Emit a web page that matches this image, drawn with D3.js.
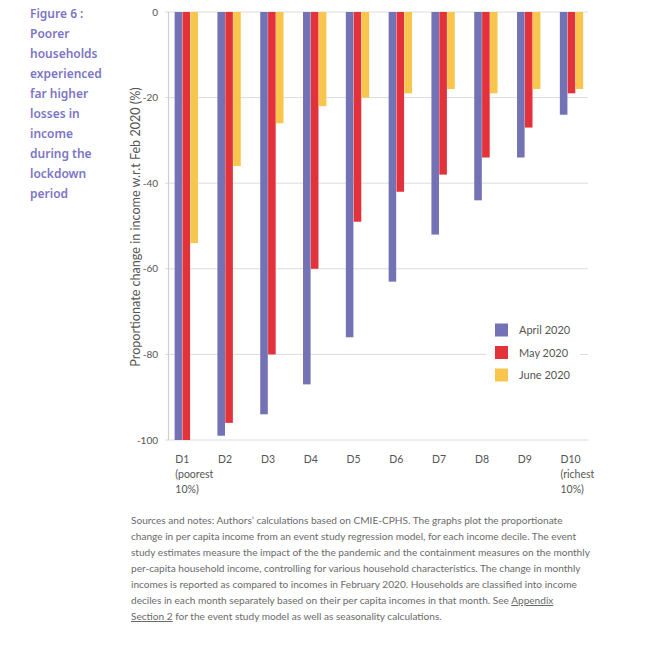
<!DOCTYPE html>
<html><head><meta charset="utf-8">
<script src="https://cdn.jsdelivr.net/npm/d3@7"></script>
<style>body{margin:0;background:#fff;} svg{display:block;}</style>
</head><body>
<svg id="c" width="658" height="648"></svg>
<script>
const deciles = ["D1","D2","D3","D4","D5","D6","D7","D8","D9","D10"];
const decileSub = [["(poorest","10%)"],[],[],[],[],[],[],[],[],["(richest","10%)"]];
const seriesNames = ["April 2020","May 2020","June 2020"];
const april = [-100,-99,-94,-87,-76,-63,-52,-44,-34,-24];
const may   = [-100,-96,-80,-60,-49,-42,-38,-34,-27,-19];
const june  = [-54,-36,-26,-22,-20,-19,-18,-19,-18,-18];
const yTicks = [0,-20,-40,-60,-80,-100];
const colors = ["#7272b4","#e3323a","#f8c64c"];
const titleLines = ["Figure 6 :","Poorer","households","experienced","far higher","losses in","income","during the","lockdown","period"];
const noteLines = [
 "Sources and notes: Authors’ calculations based on CMIE-CPHS. The graphs plot the proportionate",
 "change in per capita income from an event study regression model, for each income decile. The event",
 "study estimates measure the impact of the the pandemic and the containment measures on the monthly",
 "per-capita household income, controlling for various household characteristics.  The change in monthly",
 "incomes is reported as compared to incomes in February 2020. Households are classified into income",
 "deciles in each month separately based on their per capita incomes in that month. See |Appendix |",
 "|Section 2| for the event study model as well as seasonality calculations."
];

const values = [april, may, june];
const svg = d3.select("#c");

const y = d3.scaleLinear().domain([-100, 0]).range([440, 12]);
const x0 = d3.scaleBand().domain(deciles).range([174.3, 583.5]).paddingInner(0.44).paddingOuter(0);
const x1 = d3.scaleBand().domain(seriesNames).range([0, x0.bandwidth()]).padding(0.04);

// gridlines
svg.append("g").selectAll("line").data(yTicks).join("line")
  .attr("x1", 165).attr("x2", 588)
  .attr("y1", d => y(d)).attr("y2", d => y(d))
  .attr("stroke", "#dcdcdc").attr("stroke-width", 1);
// y axis line
svg.append("line").attr("x1", 168.5).attr("x2", 168.5).attr("y1", y(0)).attr("y2", y(-100))
  .attr("stroke", "#cfcfcf").attr("stroke-width", 1.2);
// y tick labels
svg.append("g").selectAll("text").data(yTicks).join("text")
  .attr("x", 158).attr("y", d => y(d) + 3.5)
  .attr("text-anchor", "end")
  .attr("font-family", "Lato, sans-serif").attr("font-size", 10).attr("fill", "#555")
  .text(d => d);

// bars
const g = svg.append("g");
deciles.forEach((d, i) => {
  const gg = g.append("g").attr("transform", `translate(${x0(d)},0)`);
  gg.selectAll("rect").data(seriesNames.map((s, k) => ({s, v: values[k][i], k}))).join("rect")
    .attr("x", e => x1(e.s)).attr("width", x1.bandwidth())
    .attr("y", y(0)).attr("height", e => y(e.v) - y(0))
    .attr("fill", e => colors[e.k]);
});

// x labels
const xl = svg.append("g").attr("font-family", "Lato, sans-serif").attr("font-size", 10.5).attr("fill", "#555");
deciles.forEach((d, i) => {
  const t = xl.append("text").attr("x", x0(d) + 1).attr("y", 463);
  t.append("tspan").attr("x", x0(d) + 1).attr("dy", 0).text(d);
  decileSub[i].forEach(s => t.append("tspan").attr("x", x0(d) + 1).attr("dy", 15).text(s));
});

// y axis title
svg.append("text").attr("transform", `translate(139.5,227) rotate(-90)`)
  .attr("text-anchor", "middle").attr("font-family", "Lato, sans-serif").attr("font-size", 12.6).attr("fill", "#555")
  .text("Proportionate change in income w.r.t Feb 2020 (%)");

// legend
const lg = svg.append("g");
lg.append("rect").attr("x", 486).attr("y", 316).attr("width", 94).attr("height", 70).attr("fill", "#fff");
seriesNames.forEach((s, k) => {
  const cy = 330 + k * 22.5;
  lg.append("rect").attr("x", 495).attr("y", cy - 6.5).attr("width", 13).attr("height", 13).attr("fill", colors[k]);
  lg.append("text").attr("x", 519).attr("y", cy + 4).attr("font-family", "Lato, sans-serif").attr("font-size", 11).attr("fill", "#555").text(s);
});

// title
svg.append("g").selectAll("text").data(titleLines).join("text")
  .attr("x", 30).attr("y", (d, i) => 18 + i * 20)
  .attr("font-family", "'Noto Sans', sans-serif").attr("font-weight", 600).attr("font-size", 12)
  .attr("fill", "#7d75c6").text(d => d);

// notes
const ng = svg.append("g").attr("font-family", "Lato, sans-serif").attr("font-size", 10).attr("fill", "#6a6a6a");
noteLines.forEach((line, i) => {
  const t = ng.append("text").attr("x", 131).attr("y", 524 + i * 16);
  line.split("|").forEach((part, j) => {
    if (!part) return;
    const ts = t.append("tspan").text(part);
    if (j % 2 === 1) ts.attr("text-decoration", "underline");
  });
});
// scale notes font so first line matches width
const first = ng.select("text").node();
const w = first.getComputedTextLength();
const fs = 10 * 432 / w;
ng.attr("font-size", fs);
</script>
</body></html>
